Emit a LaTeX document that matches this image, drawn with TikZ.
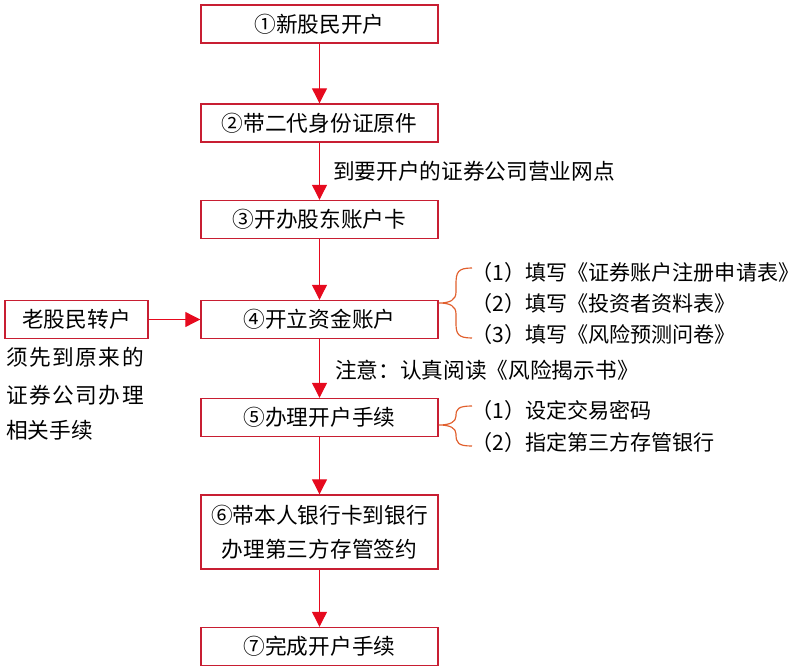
\documentclass[tikz,border=0pt]{standalone}
\usepackage{fontspec}
\setmainfont{Liberation Serif}
\newfontfamily\cjk{Noto Sans CJK SC}
\usepackage{xcolor}
\usetikzlibrary{arrows.meta}

\definecolor{boxred}{RGB}{200,30,50}
\definecolor{arrred}{RGB}{230,10,30}
\definecolor{braceor}{RGB}{225,95,45}
\newcommand{\cjkfont}{\cjk\fontsize{18.5}{22}\selectfont}

\tikzset{
	box/.style={draw=boxred, line width=1.2pt, minimum width=7.11cm, minimum height=1.14cm, inner sep=0pt, font=\cjkfont},
	arr/.style={draw=arrred, line width=1pt, -{Triangle[length=0.45cm,width=0.45cm]}},
	txt/.style={anchor=west, inner sep=0pt, font=\cjkfont},
	item/.style={txt, font=\cjk\fontsize{18}{22}\selectfont},
	brc/.style={draw=braceor, line width=1pt}
}

\begin{document}
\begin{tikzpicture}[x=0.03cm,y=-0.03cm]
		\useasboundingbox (0,0) rectangle (800,670);
		% main steps
		\node[box] (s1) at (319.5,24) {①新股民开户};
		\node[box] (s2) at (319.5,123) {②带二代身份证原件};
		\node[box] (s3) at (319.5,219.5) {③开办股东账户卡};
		\node[box] (s4) at (319.5,319.5) {④开立资金账户};
		\node[box] (s5) at (319.5,417.5) {⑤办理开户手续};
		\node[box, minimum height=2.22cm, align=center, font=\cjk\fontsize{18.5}{29}\selectfont] (s6) at (319.5,532) {⑥带本人银行卡到银行\\办理第三方存管签约};
		\node[box] (s7) at (319.5,646.5) {⑦完成开户手续};
		\node[box, minimum width=4.29cm] (old) at (76.5,319.5) {老股民转户};
		\draw[arr] (s1) -- (s2);
		\draw[arr] (s2) -- (s3);
		\draw[arr] (s3) -- (s4);
		\draw[arr] (s4) -- (s5);
		\draw[arr] (s5) -- (s6);
		\draw[arr] (s6) -- (s7);
		\draw[arr] (old) -- (s4);
		% notes
		\node[txt] (n1) at (333,171) {到要开户的证券公司营业网点};
		\node[txt] (n2) at (335,370) {注意：认真阅读《风险揭示书》};
		\node[txt] (o1) at (6,357) {\addfontfeature{LetterSpace=7}须先到原来的};
		\node[txt] (o2) at (6,395) {\addfontfeature{LetterSpace=7}证券公司办理};
		\node[txt] (o3) at (6,430) {相关手续};
		% step 4 details
		\draw[brc] (472,268) .. controls (458,268) and (456,272) .. (456,284) -- (456,292)
			.. controls (456,300) and (450,303) .. (439,303) .. controls (450,303) and (456,306) .. (456,314)
			-- (456,323) .. controls (456,334) and (458,338) .. (472,338);
		\node[item] (a1) at (471,272) {（1）填写《证券账户注册申请表》};
		\node[item] (a2) at (471,303) {（2）填写《投资者资料表》};
		\node[item] (a3) at (471,334) {（3）填写《风险预测问卷》};
		% step 5 details
		\draw[brc] (472,406) .. controls (458,406) and (456,409) .. (456,416)
			.. controls (456,422) and (450,425) .. (439,425) .. controls (450,425) and (456,428) .. (456,434)
			.. controls (456,443) and (458,446) .. (472,446);
		\node[item] (b1) at (471,410) {（1）设定交易密码};
		\node[item] (b2) at (471,442) {（2）指定第三方存管银行};
	\end{tikzpicture}
\end{document}
